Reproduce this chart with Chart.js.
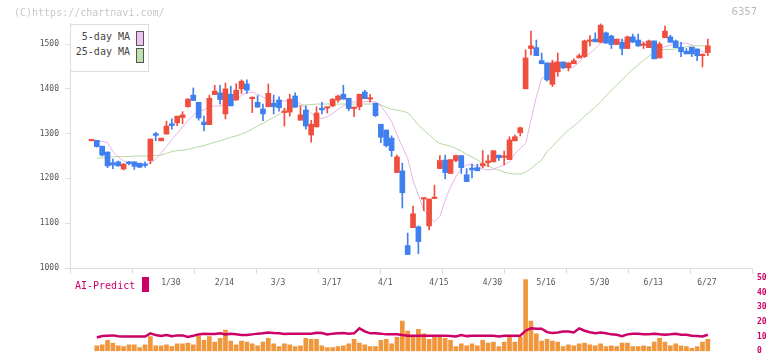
<!DOCTYPE html>
<html><head><meta charset="utf-8">
<script src="https://cdn.jsdelivr.net/npm/chart.js@4/dist/chart.umd.min.js"></script>
<style>
html,body{margin:0;padding:0;background:#fff;}
#wrap{position:relative;width:772px;height:361px;overflow:hidden;font-family:"DejaVu Sans Mono",monospace;}
canvas{position:absolute;left:0;top:0;}
.t{position:absolute;white-space:pre;line-height:10px;}
#legend{position:absolute;left:70px;top:24px;width:79px;height:48px;border:1px solid #ddd;box-sizing:border-box;background:#fff;}
#legend .lt{position:absolute;right:18px;font-size:10px;line-height:10px;color:#444;white-space:pre;}
#legend .sw{position:absolute;left:65px;width:8px;height:15px;border:1px solid #555;box-sizing:border-box;}
</style></head><body>
<div id="wrap">
<canvas id="main" width="772" height="361"></canvas>
<canvas id="sub" width="772" height="361"></canvas>
<div class="t" style="left:14px;top:8px;font-size:10px;color:#c8c8c8;">(C)https://chartnavi.com/</div>
<div class="t" id="code" style="right:15px;top:7px;font-size:10px;color:#bbb;font-family:'DejaVu Sans',sans-serif;"></div>
<div id="legend"></div>
<div class="t" id="ai" style="left:75px;top:281px;font-size:10px;color:#cc0066;"></div>
<div style="position:absolute;left:142px;top:277px;width:7px;height:15px;background:#cc0066;"></div>
</div>
<script>
const stockCode = '6357';
const aiLabel = 'AI-Predict';
const seriesNames = ['5-day MA', '25-day MA'];
const dateLabels = ['1/30','2/14','3/3','3/17','4/1','4/15','4/30','5/16','5/30','6/13','6/27'];
const dateLabelIdx = [15,25,35,45,55,65,75,85,95,105,115];
const priceTicks = [1000,1100,1200,1300,1400,1500];
const subTicks = [0,10,20,30,40,50];
const axisMarks = [0,1,2,3,4,5,6,7,8,9,10,11];

const opens = [1284,1285,1272,1259,1235,1237,1221,1237,1237,1234,
1231,1240,1300,1284,1299,1322,1324,1336,1360,1386,
1370,1326,1320,1387,1391,1344,1388,1375,1400,1411,
1378,1370,1355,1360,1368,1375,1347,1348,1384,1330,
1353,1297,1315,1357,1357,1362,1375,1388,1379,1356,
1360,1393,1377,1368,1321,1308,1290,1213,1217,1050,
1090,1092,1154,1094,1155,1222,1241,1211,1240,1251,
1208,1223,1224,1228,1235,1237,1252,1247,1242,1284,
1302,1400,1490,1492,1463,1458,1410,1438,1460,1447,
1456,1469,1472,1506,1511,1504,1525,1518,1499,1504,
1490,1516,1509,1497,1492,1507,1469,1514,1516,1507,
1493,1484,1493,1489,1474,1481];
const closes = [1286,1271,1252,1228,1230,1228,1232,1233,1227,1225,
1229,1288,1296,1290,1317,1318,1339,1342,1377,1374,
1335,1320,1379,1395,1376,1400,1362,1397,1417,1397,
1380,1359,1344,1390,1360,1358,1349,1377,1359,1342,
1317,1321,1346,1353,1359,1377,1384,1377,1356,1359,
1388,1378,1379,1340,1292,1273,1262,1248,1168,1030,
1121,1059,1156,1154,1157,1240,1213,1242,1251,1224,
1193,1219,1217,1233,1239,1262,1246,1249,1286,1293,
1313,1469,1496,1474,1456,1420,1458,1460,1447,1458,
1463,1474,1507,1508,1505,1542,1502,1499,1511,1490,
1516,1504,1496,1499,1507,1467,1500,1529,1504,1492,
1483,1478,1478,1474,1476,1496];
const highs = [1286,1285,1272,1259,1243,1239,1233,1238,1237,1234,
1237,1288,1303,1290,1328,1333,1339,1349,1378,1402,
1370,1339,1386,1408,1408,1413,1406,1411,1420,1420,
1382,1385,1366,1411,1386,1382,1357,1388,1391,1362,
1362,1330,1360,1370,1359,1378,1386,1408,1379,1359,
1388,1397,1388,1368,1321,1308,1295,1252,1234,1078,
1138,1094,1156,1154,1185,1251,1252,1242,1252,1251,
1222,1232,1232,1262,1252,1262,1252,1261,1293,1297,
1315,1487,1529,1509,1480,1458,1464,1480,1460,1458,
1467,1478,1509,1519,1525,1545,1527,1520,1511,1511,
1518,1522,1522,1504,1509,1507,1504,1540,1520,1509,
1504,1490,1493,1489,1478,1511];
const lows = [1284,1270,1250,1224,1222,1227,1219,1230,1220,1224,
1225,1233,1284,1284,1299,1310,1318,1322,1359,1374,
1330,1306,1320,1387,1366,1333,1362,1375,1390,1390,
1347,1359,1329,1360,1344,1350,1317,1339,1359,1330,
1310,1281,1315,1344,1346,1360,1370,1377,1351,1338,
1353,1378,1370,1338,1280,1270,1249,1213,1134,1030,
1090,1032,1128,1085,1155,1222,1199,1211,1237,1211,
1193,1201,1217,1224,1226,1237,1240,1230,1242,1284,
1295,1400,1476,1474,1456,1417,1405,1428,1445,1440,
1456,1469,1470,1496,1505,1504,1502,1490,1499,1476,
1490,1504,1494,1490,1492,1467,1469,1514,1504,1492,
1472,1478,1472,1463,1449,1474];
const ma5 = [null,1283,1283,1280,1260,1248,1239,1234,1233,1230,
1230,1234,1243,1256,1271,1287,1300,1315,1329,1341,
1350,1353,1359,1362,1361,1366,1371,1375,1386,1391,
1393,1388,1382,1375,1373,1373,1373,1373,1371,1368,
1356,1345,1336,1334,1338,1345,1354,1362,1369,1371,
1371,1371,1372,1371,1362,1345,1327,1297,1271,1245,
1196,1163,1129,1115,1103,1115,1152,1181,1204,1222,
1230,1232,1226,1221,1219,1220,1226,1230,1237,1256,
1267,1278,1330,1382,1423,1431,1460,1460,1449,1446,
1449,1460,1472,1479,1490,1502,1505,1509,1509,1509,
1507,1506,1506,1505,1502,1496,1490,1494,1498,1502,
1502,1502,1498,1488,1483,1481];
const ma25 = [null,1245,1246,1247,1248,1249,1249,1249,1250,1250,
1250,1250,1251,1252,1256,1260,1262,1263,1265,1268,
1271,1273,1277,1281,1284,1288,1292,1295,1299,1304,
1310,1317,1323,1330,1336,1343,1353,1356,1360,1364,
1364,1365,1366,1366,1366,1366,1366,1366,1366,1366,
1366,1366,1366,1366,1364,1359,1354,1353,1350,1347,
1334,1319,1308,1298,1286,1278,1275,1272,1267,1261,
1254,1248,1241,1234,1228,1222,1219,1214,1211,1210,
1210,1214,1222,1232,1241,1260,1271,1284,1297,1308,
1317,1327,1339,1349,1359,1371,1384,1397,1408,1420,
1432,1444,1453,1464,1473,1481,1487,1488,1488,1489,
1491,1494,1496,1496,1496,1496];
const volume = [null,3.75,4.4,7.5,5.6,3.75,3.1,4.4,4.4,2.5,
4.4,10,3.75,3.75,4.4,3.1,5,5,5.6,4.4,
10.6,7.5,10,6.25,8.75,14.4,6.9,4.4,6.9,6.25,
5,3.75,6.25,8.75,5,3.1,5,4.4,3.1,3.75,
8.75,8.1,8.1,3.75,2.5,2.5,3.1,3.75,5,8.1,
5.6,4.4,3.1,3.1,7.5,8.1,5,9.4,20.6,13.75,
9.4,15,11.9,8.1,9.4,9.4,8.75,7.5,3.1,5,
3.75,5,3.75,7.5,5.6,6.25,3.1,6.25,9.4,6.25,
9.4,49,20.6,11.9,6.9,8.1,6.9,6.25,3.1,4.4,
3.75,5,5.6,4.4,3.75,5,3.1,3.75,3.1,5.6,
5.6,3.1,3.1,3.75,3.1,6.25,8.75,6.25,3.75,5,
3.75,3.1,1.9,3.1,6.25,8.1];
const aiPredict = [null,9.4,10.4,10.6,10.8,10.2,10,10,10,10,
10,12.2,11,10.4,11,10.2,10.8,10.8,9.8,10.6,
11.5,11.9,11.7,11.7,12.2,11.5,11.9,11.5,11,11,
11.5,12,12.2,12.8,12.4,12.2,11.7,12,12,12,
12,12,12.6,12.4,11.5,12,12.2,12.4,12,12.2,
15.6,13.5,12.2,12.2,12,11.5,11.5,11.5,11,10.6,
10.6,10.6,10.6,10.6,10.6,10.6,10.6,10.3,10,11,
10.3,10.6,10.6,10.6,10.6,10.6,10,10.6,10.6,10.6,
10.6,14,15.6,15.3,15.3,13,12.5,12.8,13.5,13.5,
12.8,15.6,14,13,12.2,12.8,12.2,11.5,11.2,10.3,
11.5,11.9,11.9,11.5,11.5,11.9,11.5,11.2,11.5,11.9,
11.2,11.2,10.6,10.3,10,11.2];

const UP = '#f04e3e', DOWN = '#4080ee';
const MA5C = '#e6b3e6', MA25C = '#b3d9a0';
const SW5 = '#f0c0f0', SW25 = '#c0e0b0';
const XMIN = -4, XMAX = 123.24;
const MONO = 'DejaVu Sans Mono';

document.getElementById('code').textContent = stockCode;
document.getElementById('ai').textContent = aiLabel;
const lg = document.getElementById('legend');
[[seriesNames[0], SW5, 7, 6], [seriesNames[1], SW25, 22, 23]].forEach(([name, c, tt, st]) => {
  const t = document.createElement('div'); t.className = 'lt'; t.style.top = tt + 'px'; t.textContent = name; lg.appendChild(t);
  const s = document.createElement('div'); s.className = 'sw'; s.style.top = st + 'px'; s.style.background = c; lg.appendChild(s);
});

const candleColor = opens.map((o, i) => closes[i] >= o ? UP : DOWN);

new Chart(document.getElementById('main'), {
  type: 'bar',
  data: {
    datasets: [
      { type: 'bar', label: 'body', xAxisID: 'x', yAxisID: 'y',
        data: opens.map((o, i) => ({ x: i, y: [o, closes[i]] })),
        backgroundColor: candleColor, barThickness: 5, grouped: false, minBarLength: 1.5, order: 0 },
      { type: 'bar', label: 'wick', xAxisID: 'x', yAxisID: 'y',
        data: lows.map((l, i) => ({ x: i, y: [l, highs[i]] })),
        backgroundColor: candleColor, barThickness: 1, grouped: false, order: 1 },
      { type: 'line', label: seriesNames[0], xAxisID: 'x', yAxisID: 'y',
        data: ma5.map((v, i) => ({ x: i, y: v })),
        borderColor: MA5C, borderWidth: 1, pointRadius: 0, tension: 0, order: 2 },
      { type: 'line', label: seriesNames[1], xAxisID: 'x', yAxisID: 'y',
        data: ma25.map((v, i) => ({ x: i, y: v })),
        borderColor: MA25C, borderWidth: 1, pointRadius: 0, tension: 0, order: 3 }
    ]
  },
  options: {
    responsive: false, animation: false, devicePixelRatio: 1,
    layout: { padding: { left: 0, top: 23, right: 20, bottom: 0 } },
    plugins: { legend: { display: false }, tooltip: { enabled: false } },
    scales: {
      x: {
        type: 'linear', position: 'bottom', weight: 1, min: XMIN, max: XMAX, offset: false,
        afterFit(s) { s.height = 93; },
        afterBuildTicks(s) { s.ticks = dateLabelIdx.map(v => ({ value: v })); },
        ticks: { autoSkip: false, maxRotation: 0, color: '#555', padding: 10, labelOffset: -1,
          font: { family: MONO, size: 8 }, callback: (v, i) => dateLabels[i] },
        grid: { display: false, drawTicks: false, offset: false },
        border: { display: true, color: '#ddd' }
      },
      xg: {
        type: 'linear', position: 'bottom', weight: -1, min: 0, max: 11, offset: false,
        afterFit(s) { s.height = 0; },
        afterBuildTicks(s) { s.ticks = axisMarks.map(v => ({ value: v })); },
        ticks: { display: false },
        grid: { drawOnChartArea: false, tickLength: 6, color: '#ddd', offset: false },
        border: { display: false }
      },
      y: {
        type: 'linear', position: 'left', min: 1000, max: 1547, beginAtZero: false,
        afterFit(s) { s.width = 70; },
        afterBuildTicks(s) { s.ticks = priceTicks.map(v => ({ value: v })); },
        ticks: { color: '#555', padding: 6, font: { family: MONO, size: 8 }, callback: v => String(v) },
        grid: { drawOnChartArea: false, tickLength: 5, color: '#ddd' },
        border: { color: '#ddd' }
      }
    }
  }
});

new Chart(document.getElementById('sub'), {
  type: 'bar',
  data: {
    datasets: [
      { type: 'line', label: aiLabel, data: aiPredict.map((v, i) => ({ x: i, y: v })),
        borderColor: '#cc0066', borderWidth: 2.5, pointRadius: 0, tension: 0, order: 0 },
      { type: 'bar', label: 'volume', data: volume.map((v, i) => ({ x: i, y: v })),
        backgroundColor: '#f0963c', barThickness: 4, grouped: false, order: 1 }
    ]
  },
  options: {
    responsive: false, animation: false, devicePixelRatio: 1,
    layout: { padding: { left: 70, top: 278, right: 0, bottom: 3 } },
    plugins: { legend: { display: false }, tooltip: { enabled: false } },
    scales: {
      x: { type: 'linear', min: XMIN, max: XMAX, offset: false, display: false },
      y: {
        type: 'linear', position: 'right', min: 0, max: 50,
        afterFit(s) { s.width = 20; },
        afterBuildTicks(s) { s.ticks = subTicks.map(v => ({ value: v })); },
        ticks: { color: '#cc0066', padding: 5, font: { family: MONO, size: 8, weight: 'bold' }, callback: v => String(v) },
        grid: { display: false, drawTicks: false },
        border: { display: false }
      }
    }
  }
});
</script>
</body></html>
